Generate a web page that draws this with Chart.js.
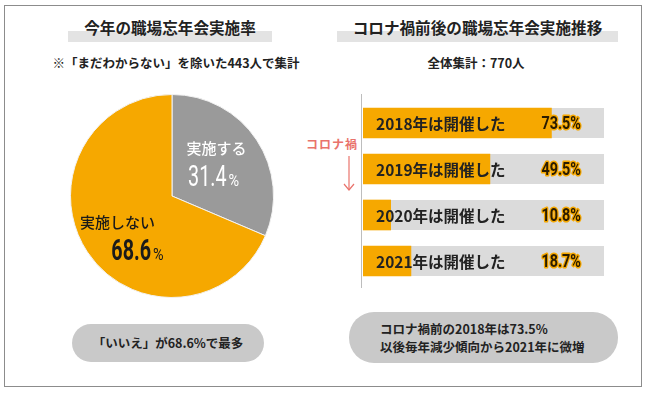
<!DOCTYPE html>
<html lang="ja">
<head>
<meta charset="UTF-8" />
<title>職場忘年会 実施率</title>
<script src="https://cdn.jsdelivr.net/npm/chart.js"></script>
<style>
  html, body { margin: 0; padding: 0; background: #fff; }
  body { width: 650px; height: 393px; position: relative; overflow: hidden;
         font-family: "Noto Sans CJK JP", sans-serif; color: #222; }
  .frame { position: absolute; left: 4px; top: 5px; width: 638px; height: 382px;
           border: 1px solid #8c8c8c; box-sizing: border-box; }
  .title { position: absolute; top: 17px; height: 20px; text-align: center;
           font-weight: 700; font-size: 15.6px; line-height: 20px; }
  .title .bar { position: absolute; left: 0; right: 0; top: 14px; height: 11px; background: #e3e3e3; }
  .title span { position: relative; }
  .sub { position: absolute; top: 54px; line-height: 18px; text-align: center;
         font-size: 12.5px; font-weight: 700; }
  .pill { position: absolute; background: #c9c9c9; font-size: 12.5px; font-weight: 700; color: #222; }
  .box { position: absolute; }
  .corona { position: absolute; left: 306px; top: 135px; font-size: 12px; font-weight: 700;
            color: #e9736c; letter-spacing: 1px; }
</style>
</head>
<body>
<div class="frame"></div>

<div class="title" style="left:68px;width:204px"><div class="bar"></div><span>今年の職場忘年会実施率</span></div>
<div class="sub" style="left:40px;width:272px">※「まだわからない」を除いた443人で集計</div>
<div class="box" style="left:60px;top:94px;width:224px;height:204px"><canvas id="pie"></canvas></div>
<div class="pill" style="left:72px;top:324px;width:192px;height:38px;border-radius:19px;line-height:38px;text-align:center">「いいえ」が68.6%で最多</div>

<div class="title" style="left:337px;width:281px"><div class="bar"></div><span>コロナ禍前後の職場忘年会実施推移</span></div>
<div class="sub" style="left:400px;width:152px">全体集計：770人</div>
<div class="corona">コロナ禍</div>
<svg class="box" style="left:341px;top:154px" width="16" height="40">
  <line x1="8" y1="2" x2="8" y2="36" stroke="#e9736c" stroke-width="1.2" />
  <polyline points="3,30 8,36 13,30" fill="none" stroke="#e9736c" stroke-width="1.2" />
</svg>
<div class="box" style="left:361px;top:94px;width:243px;height:194px"><canvas id="bars"></canvas></div>
<div class="pill" style="left:349px;top:312px;width:269px;height:51px;border-radius:25px;line-height:18px;padding:8px 0 0 31px;box-sizing:border-box">コロナ禍前の2018年は73.5%<br>以後毎年減少傾向から2021年に微増</div>

<script>
// 今年の職場忘年会実施率
const pieLabels = ['実施する', '実施しない'];
const pieValues = [31.4, 68.6];

// コロナ禍前後の推移
const yearLabels = ['2018年は開催した', '2019年は開催した', '2020年は開催した', '2021年は開催した'];
const heldRates = [73.5, 49.5, 10.8, 18.7];

const ORANGE = '#f6a800';
const GRAY = '#9a9a9a';
const TRACK = '#dbdbdb';
const NUMFONT = 'Roboto, sans-serif';
const JP = '"Noto Sans CJK JP", sans-serif';

Chart.defaults.animation = false;

// condensed text: squeeze horizontally, x is the left edge
function narrowText(ctx, txt, x, y, sx, stroke) {
  ctx.save();
  ctx.translate(x, y);
  ctx.scale(sx, 1);
  if (stroke) ctx.strokeText(txt, 0, 0);
  ctx.fillText(txt, 0, 0);
  ctx.restore();
  return ctx.measureText(txt).width * sx;
}

// big number + small "%" centred on cx
function drawPercent(ctx, value, cx, cy, size, color, weight) {
  const sx = 0.68;
  const num = value.toFixed(1);
  const big = weight + ' ' + size + 'px ' + NUMFONT;
  const small = '400 ' + Math.round(size * 0.6) + 'px ' + NUMFONT;
  ctx.font = big;
  const w1 = ctx.measureText(num).width * sx;
  ctx.font = small;
  const w2 = ctx.measureText('%').width * 0.85;
  const x = cx - (w1 + w2 + 2) / 2;
  const base = cy + size * 0.36;
  ctx.fillStyle = color;
  ctx.textAlign = 'left';
  ctx.textBaseline = 'alphabetic';
  ctx.font = big;
  narrowText(ctx, num, x, base, sx);
  ctx.font = small;
  narrowText(ctx, '%', x + w1 + 2, base, 0.85);
}

const pieLabelPlugin = {
  id: 'pieLabels',
  afterDatasetsDraw(chart) {
    const ctx = chart.ctx;
    const meta = chart.getDatasetMeta(0);
    const nudges = [[-2, -3], [-4, 10]];
    const styles = [
      { text: '#ffffff', weight: '400' },
      { text: '#1a1a1a', weight: '700' }
    ];
    meta.data.forEach((arc, i) => {
      const p = arc.getProps(['x', 'y', 'startAngle', 'endAngle', 'outerRadius']);
      const mid = (p.startAngle + p.endAngle) / 2;
      const cx = p.x + Math.cos(mid) * p.outerRadius * 0.55 + nudges[i][0];
      const cy = p.y + Math.sin(mid) * p.outerRadius * 0.55 + nudges[i][1];
      ctx.save();
      ctx.fillStyle = styles[i].text;
      ctx.font = '500 15px ' + JP;
      ctx.textAlign = 'center';
      ctx.textBaseline = 'middle';
      ctx.fillText(pieLabels[i], cx - (i ? 4 : 0), cy - 14);
      drawPercent(ctx, pieValues[i], cx + (i ? 16 : -3), cy + 13, 29, styles[i].text, styles[i].weight);
      ctx.restore();
    });
  }
};

new Chart(document.getElementById('pie'), {
  type: 'pie',
  data: {
    labels: pieLabels,
    datasets: [{ data: pieValues, backgroundColor: [GRAY, ORANGE], borderColor: '#f2f2f2', borderWidth: 1 }]
  },
  options: {
    responsive: true,
    maintainAspectRatio: false,
    layout: { padding: 0 },
    plugins: { legend: { display: false }, tooltip: { enabled: false } }
  },
  plugins: [pieLabelPlugin]
});

const barPlugin = {
  id: 'barDecor',
  beforeDatasetsDraw(chart) {
    const { ctx, chartArea } = chart;
    ctx.save();
    ctx.fillStyle = TRACK;
    chart.getDatasetMeta(0).data.forEach(bar => {
      ctx.fillRect(chartArea.left, bar.y - bar.height / 2, chartArea.right - chartArea.left, bar.height);
    });
    ctx.restore();
  },
  afterDatasetsDraw(chart) {
    const { ctx, chartArea } = chart;
    ctx.save();
    // axis line
    ctx.strokeStyle = '#bdbdbd';
    ctx.lineWidth = 1;
    ctx.beginPath();
    ctx.moveTo(chartArea.left - 1.5, 0);
    ctx.lineTo(chartArea.left - 1.5, chart.height);
    ctx.stroke();
    chart.getDatasetMeta(0).data.forEach((bar, i) => {
      ctx.fillStyle = '#222';
      ctx.font = '700 15.5px ' + JP;
      ctx.textAlign = 'left';
      ctx.textBaseline = 'middle';
      ctx.fillText(yearLabels[i], chartArea.left + 13, bar.y + 1);
      const txt = heldRates[i].toFixed(1) + '%';
      const sx = 0.8;
      ctx.font = '700 18px ' + NUMFONT;
      const w = ctx.measureText(txt).width * sx;
      ctx.lineJoin = 'round';
      ctx.lineWidth = 3;
      ctx.strokeStyle = ORANGE;
      ctx.fillStyle = '#2a1c00';
      narrowText(ctx, txt, chartArea.right - 23 - w, bar.y + 1, sx, true);
    });
    ctx.restore();
  }
};

new Chart(document.getElementById('bars'), {
  type: 'bar',
  data: {
    labels: yearLabels,
    datasets: [{ data: heldRates, backgroundColor: ORANGE, borderWidth: 0, barThickness: 30 }]
  },
  options: {
    indexAxis: 'y',
    responsive: true,
    maintainAspectRatio: false,
    layout: { padding: { left: 2, top: 6, bottom: 4, right: 0 } },
    scales: {
      x: { display: false, min: 0, max: 94 },
      y: { display: false }
    },
    plugins: { legend: { display: false }, tooltip: { enabled: false } }
  },
  plugins: [barPlugin]
});
</script>
</body>
</html>
